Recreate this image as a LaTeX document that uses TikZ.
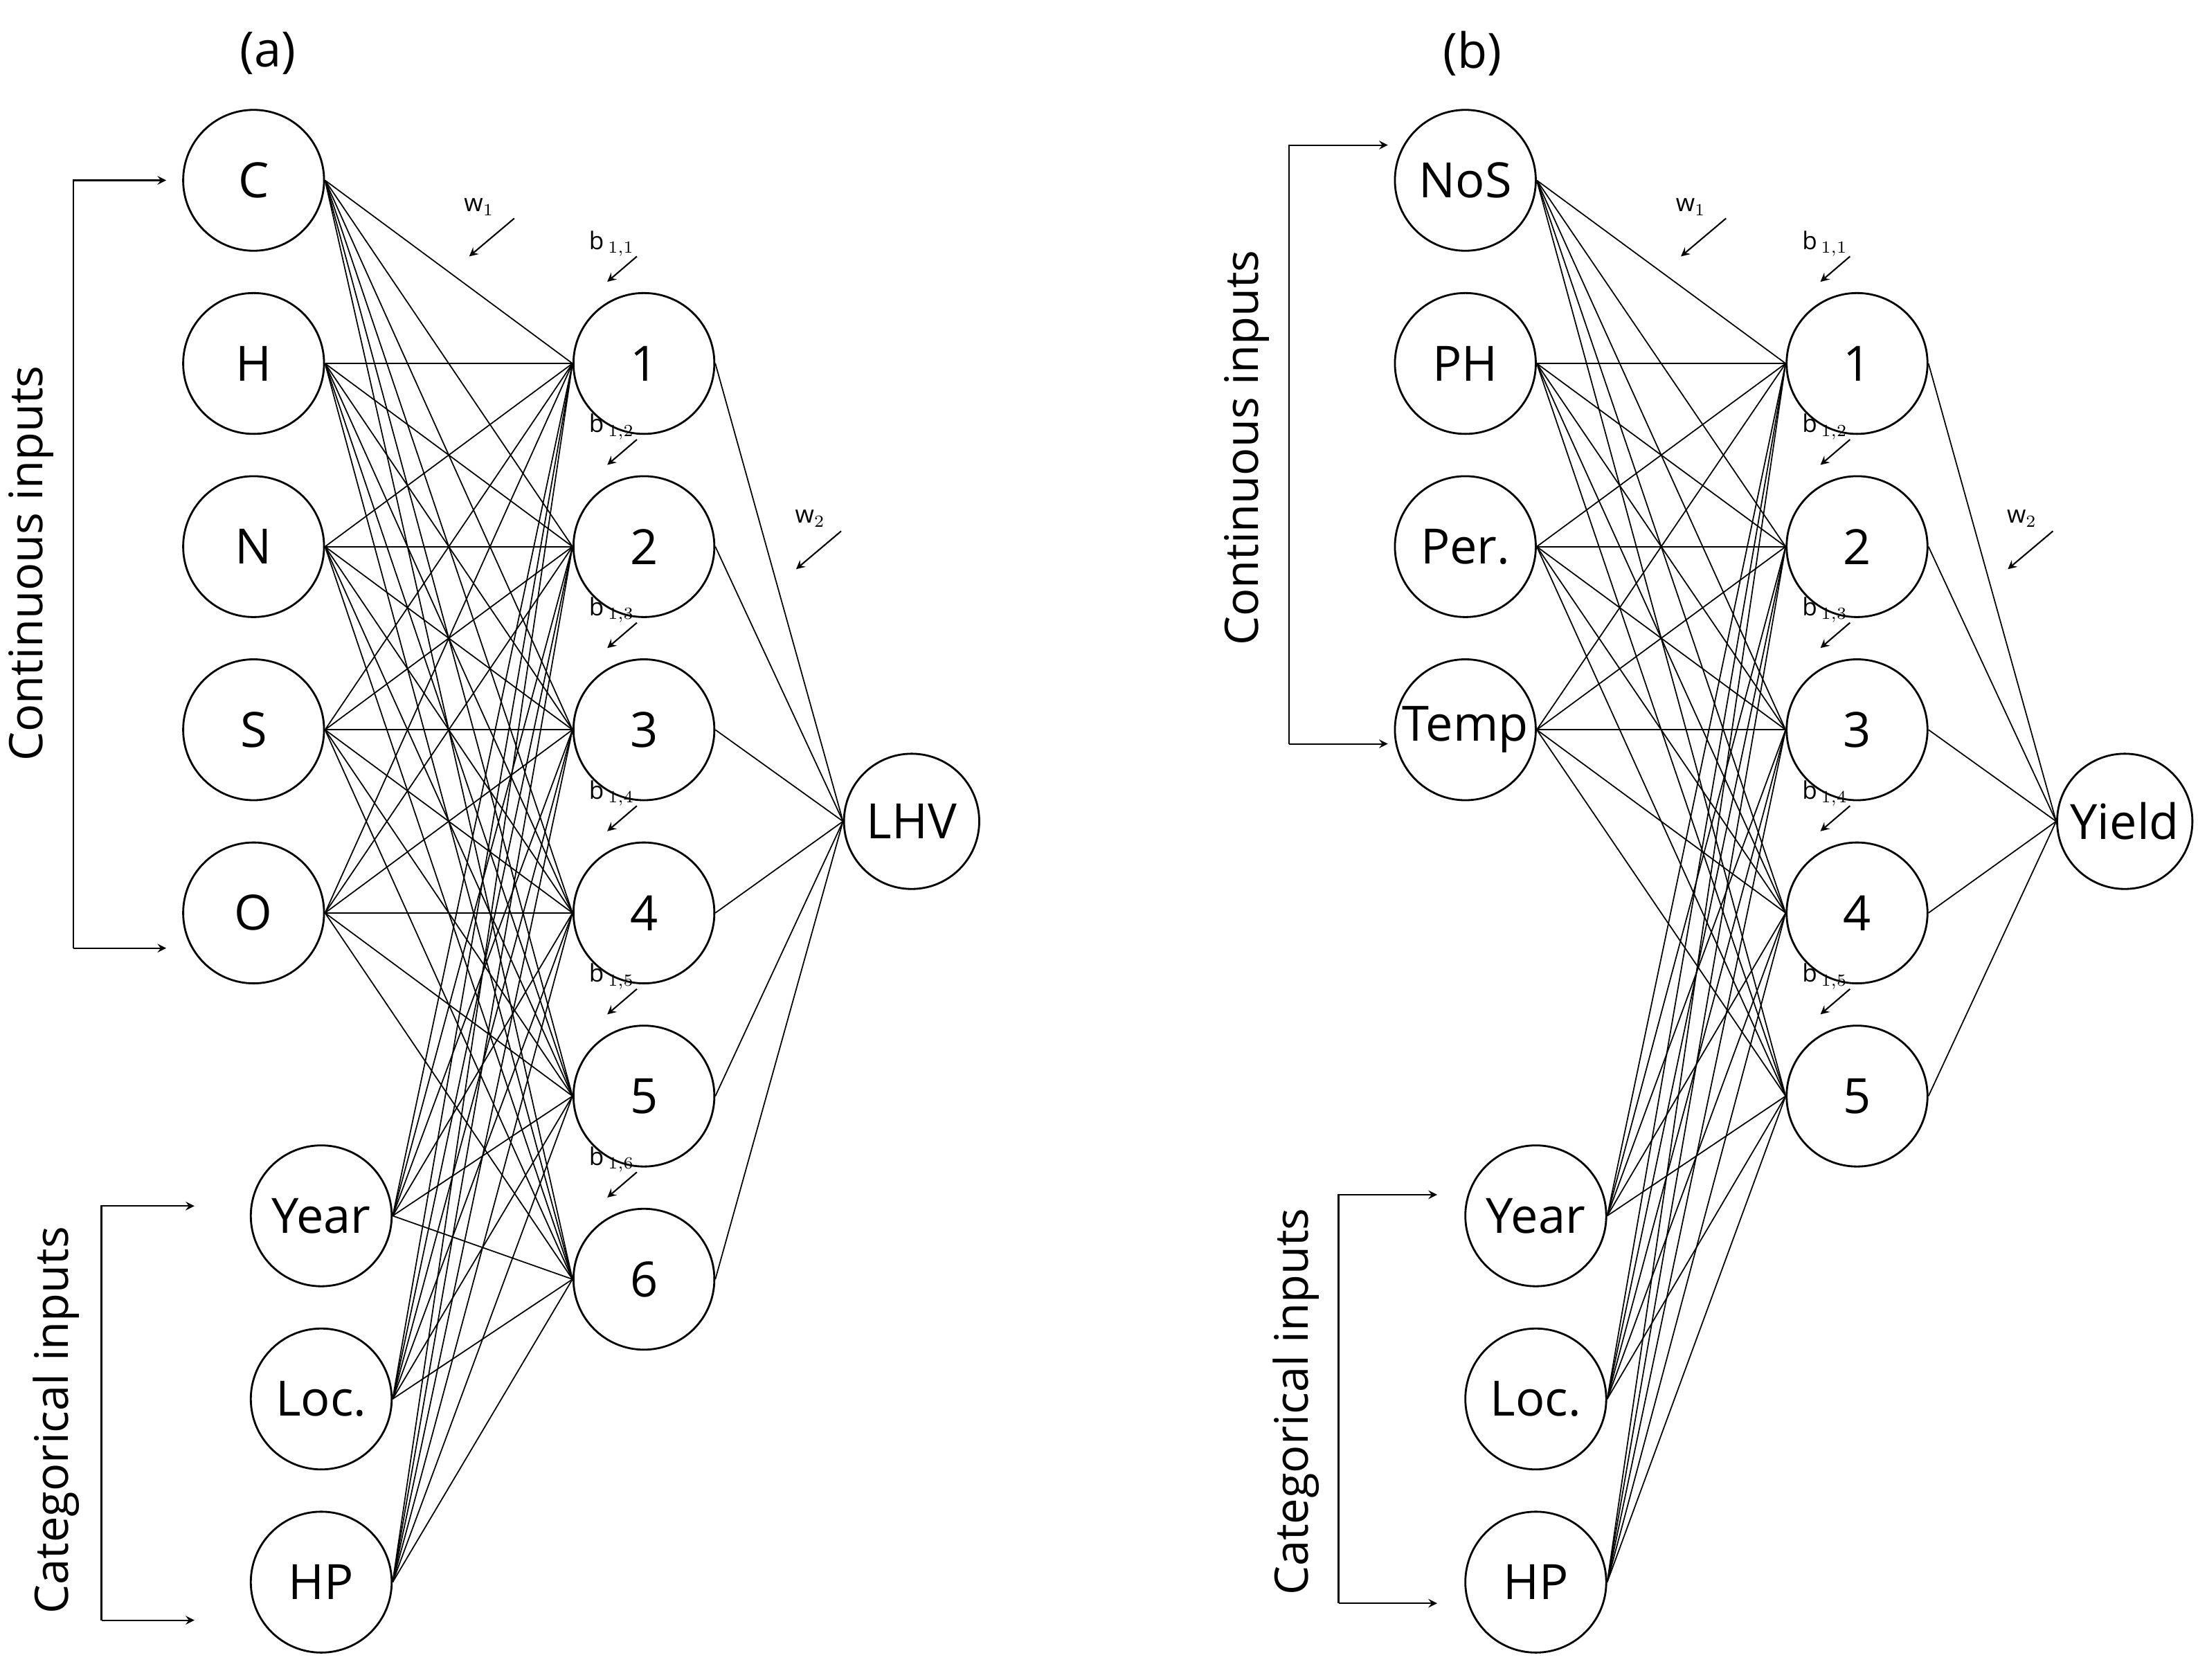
\documentclass[tikz,border=0pt]{standalone}
\usepackage{fontspec}
\setmainfont{Open Sans}
\begin{document}
\begin{tikzpicture}[x=0.02035cm,y=-0.02035cm,
  neu/.style={circle,draw,line width=0.8pt,minimum size=100*0.02035cm,inner sep=0pt,font=\fontsize{20}{24}\selectfont},
  outn/.style={neu,minimum size=96*0.02035cm},
  con/.style={line width=0.5pt},
  brk/.style={line width=0.6pt},
  arr/.style={line width=0.6pt,-stealth},
  side/.style={rotate=90,font=\fontsize{19}{22}\selectfont},
  sm/.style={font=\fontsize{10}{11}\selectfont}]
\useasboundingbox (0,0) rectangle (1560,1192);
\node[font=\fontsize{20}{24}\selectfont] (la) at (190,38) {(a)};
\node[font=\fontsize{20}{24}\selectfont] (lb) at (1045,38) {(b)};
% ---------- panel a ----------
\foreach \n/\t/\y in {aC/C/128,aH/H/258,aN/N/388,aS/S/518,aO/O/648}
  \node[neu] (\n) at (180,\y) {\t};
\foreach \n/\t/\y in {aY/Year/863,aL/Loc./993,aP/HP/1123}
  \node[neu] (\n) at (228,\y) {\t};
\foreach \k/\y in {1/258,2/388,3/518,4/648,5/778,6/908}
  \node[neu] (ah\k) at (457,\y) {\k};
\node[outn] (aout) at (647,583) {LHV};
\foreach \i in {aC,aH,aN,aS,aO,aY,aL,aP}
  \foreach \k in {1,...,6}
    \draw[con] (\i.east) -- (ah\k.west);
\foreach \k in {1,...,6}
  \draw[con] (ah\k.east) -- (aout.west);
\foreach \k/\y in {1/258,2/388,3/518,4/648,5/778,6/908}{
  \node[sm,anchor=west] (ab\k) at (412,\y-85) {b\,$_{\scriptstyle 1,\k}$};
  \coordinate (abs\k) at (452,\y-76);
  \coordinate (abe\k) at (431,\y-58);
  \draw[arr] (abs\k) -- (abe\k);
}
\node[sm] (aw1) at (340,147) {w$_1$};
\coordinate (aw1s) at (365,155); \coordinate (aw1e) at (333,182);
\draw[arr] (aw1s) -- (aw1e);
\node[sm] (aw2) at (575,368) {w$_2$};
\coordinate (aw2s) at (597,377); \coordinate (aw2e) at (565,404);
\draw[arr] (aw2s) -- (aw2e);
\coordinate (ac1) at (118,128); \coordinate (ac2) at (118,673);
\draw[brk,-stealth] (52,673) -- (52,128) -- (ac1);
\draw[brk,-stealth] (52,673) -- (ac2);
\node[side] (act) at (22,400) {Continuous inputs};
\coordinate (ak1) at (138,856); \coordinate (ak2) at (138,1150);
\draw[brk,-stealth] (72,1150) -- (72,856) -- (ak1);
\draw[brk,-stealth] (72,1150) -- (ak2);
\node[side] (akt) at (40,1008) {Categorical inputs};
% ---------- panel b ----------
\foreach \n/\t/\y in {bA/NoS/128,bB/PH/258,bC/Per./388,bD/Temp/518}
  \node[neu] (\n) at (1040,\y) {\t};
\foreach \n/\t/\y in {bY/Year/863,bL/Loc./993,bP/HP/1123}
  \node[neu] (\n) at (1090,\y) {\t};
\foreach \k/\y in {1/258,2/388,3/518,4/648,5/778}
  \node[neu] (bh\k) at (1318,\y) {\k};
\node[outn] (bout) at (1508,583) {Yield};
\foreach \i in {bA,bB,bC,bD,bY,bL,bP}
  \foreach \k in {1,...,5}
    \draw[con] (\i.east) -- (bh\k.west);
\foreach \k in {1,...,5}
  \draw[con] (bh\k.east) -- (bout.west);
\foreach \k/\y in {1/258,2/388,3/518,4/648,5/778}{
  \node[sm,anchor=west] (bb\k) at (1273,\y-85) {b\,$_{\scriptstyle 1,\k}$};
  \coordinate (bbs\k) at (1313,\y-76);
  \coordinate (bbe\k) at (1292,\y-58);
  \draw[arr] (bbs\k) -- (bbe\k);
}
\node[sm] (bw1) at (1200,147) {w$_1$};
\coordinate (bw1s) at (1225,155); \coordinate (bw1e) at (1193,182);
\draw[arr] (bw1s) -- (bw1e);
\node[sm] (bw2) at (1435,368) {w$_2$};
\coordinate (bw2s) at (1457,377); \coordinate (bw2e) at (1425,404);
\draw[arr] (bw2s) -- (bw2e);
\coordinate (bc1) at (985,103); \coordinate (bc2) at (985,528);
\draw[brk,-stealth] (915,528) -- (915,103) -- (bc1);
\draw[brk,-stealth] (915,528) -- (bc2);
\node[side] (bct) at (885,318) {Continuous inputs};
\coordinate (bk1) at (1020,848); \coordinate (bk2) at (1020,1138);
\draw[brk,-stealth] (950,1138) -- (950,848) -- (bk1);
\draw[brk,-stealth] (950,1138) -- (bk2);
\node[side] (bkt) at (920,995) {Categorical inputs};
\end{tikzpicture}
\end{document}
